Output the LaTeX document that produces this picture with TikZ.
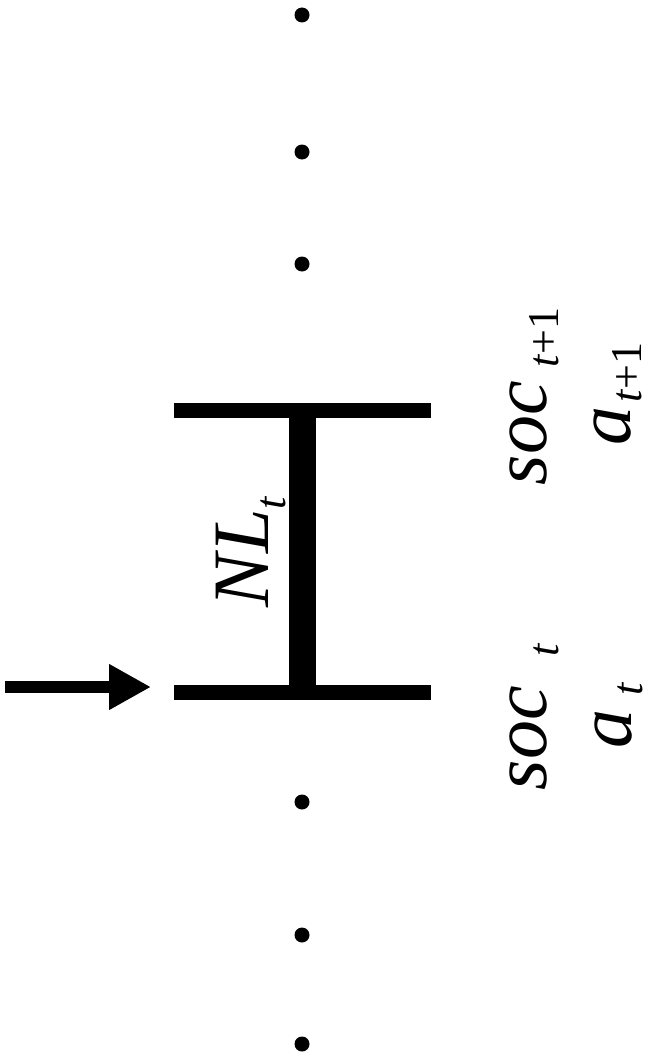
\documentclass[tikz,border=0pt]{standalone}
\usepackage{fontspec}
\setmainfont{Liberation Serif}
\usetikzlibrary{arrows.meta}
\newcommand{\bigit}{\fontsize{78}{80}\selectfont\itshape}
\newcommand{\nlit}{\fontsize{80}{82}\selectfont\itshape}
\newcommand{\subit}{\fontsize{44}{46}\selectfont\itshape}
\begin{document}
\begin{tikzpicture}[x=1pt,y=-1pt,
  dot/.style={circle,fill=black,inner sep=0pt,minimum size=15pt},
  bar/.style={line width=15pt},
  stem/.style={line width=27pt},
  lbl/.style={rotate=90,anchor=base west,inner sep=0pt,outer sep=0pt},
  feed/.style={line width=12pt,-{Triangle[length=42pt,width=43pt]}}]
\useasboundingbox (0,0) rectangle (654,1057);
% dots
\node[dot] (d1) at (302,15) {};
\node[dot] (d2) at (302,152) {};
\node[dot] (d3) at (302,264) {};
\node[dot] (d4) at (302,802) {};
\node[dot] (d5) at (302,935) {};
\node[dot] (d6) at (302,1044) {};
% H shape
\coordinate (tl) at (174,410.5);
\coordinate (tr) at (431,410.5);
\coordinate (bl) at (174,692.5);
\coordinate (br) at (431,692.5);
\coordinate (tm) at (302.5,410.5);
\coordinate (bm) at (302.5,692.5);
\draw[stem] (tm) -- (bm);
\draw[bar] (tl) -- (tr);
\draw[bar] (bl) -- (br);
% arrow
\coordinate (as) at (5,687);
\coordinate (ae) at (151,687);
\draw[feed] (as) -- (ae);
% labels
\node[lbl] (nl) at (268,607) {\nlit NL\raisebox{-17pt}{\subit t}};
\node[lbl] (soct) at (546,790) {\bigit soc\hspace{30pt}\raisebox{-12pt}{\subit t}};
\node[lbl] (at) at (631,748) {\bigit a\hspace{14pt}\raisebox{-11pt}{\subit t}};
\node[lbl] (soct1) at (546,485) {\bigit soc\hspace{14pt}\raisebox{-12pt}{\subit t\upshape+1}};
\node[lbl] (at1) at (630,445) {\bigit a\hspace{4pt}\raisebox{-11pt}{\subit t\upshape+1}};
\end{tikzpicture}
\end{document}
